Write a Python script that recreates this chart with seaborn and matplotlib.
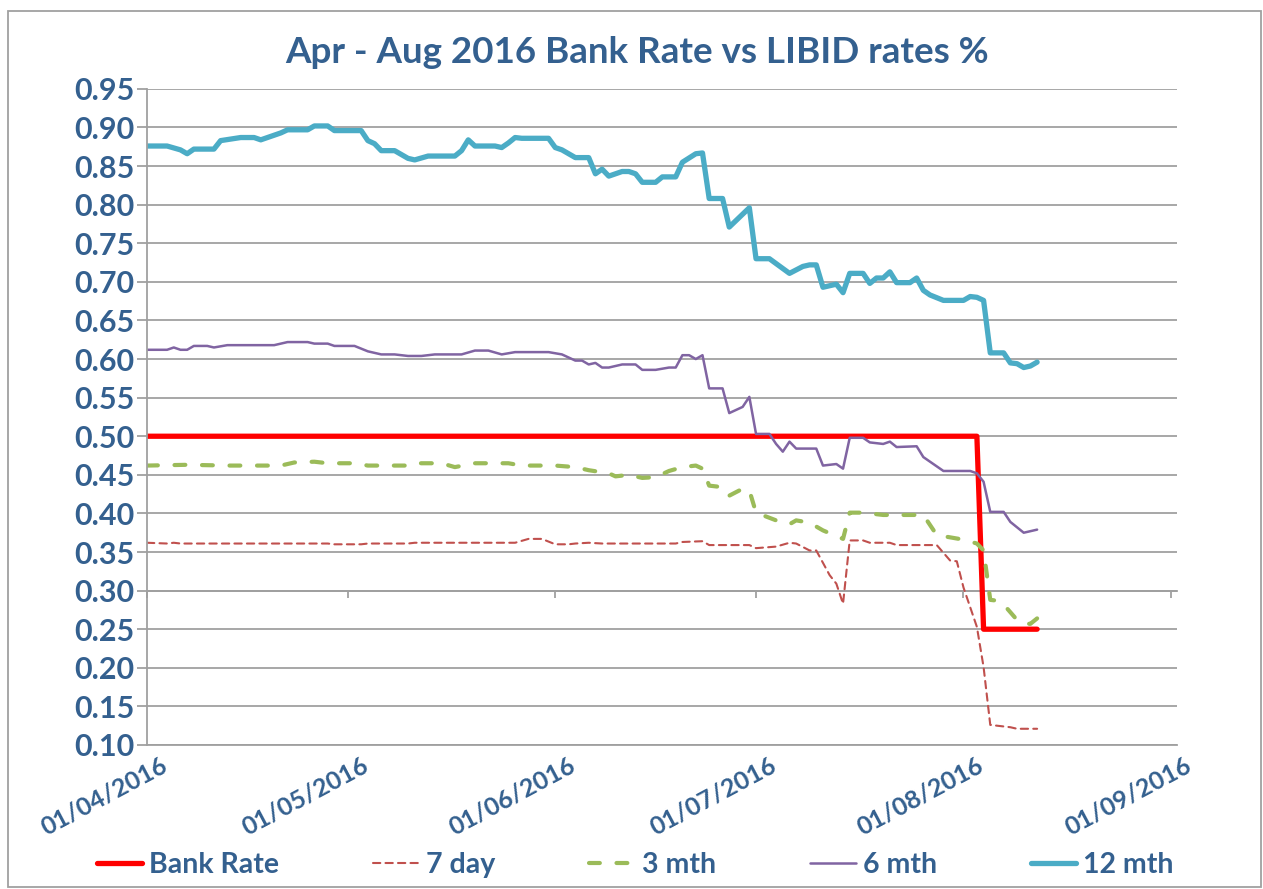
import pandas as pd
import numpy as np
import matplotlib
matplotlib.use('Agg')
import matplotlib.pyplot as plt
import matplotlib.dates as mdates
import matplotlib.transforms as mtransforms
from matplotlib.patches import Rectangle
import seaborn as sns

sns.set_style('white')
plt.rcParams['font.family'] = ['Lato', 'DejaVu Sans']
plt.rcParams['font.weight'] = 'bold'

text_blue = '#34608F'
grid_grey = '#A0A0A0'

# Bank Rate
bank_dates = ['04-01', '08-03', '08-04', '08-12']
bank_vals = [0.50, 0.50, 0.25, 0.25]

# 7 day LIBID
d7_dates = ['04-01', '04-04', '04-05', '04-06', '04-28', '04-29', '05-03', '05-04', '05-10', '05-11',
            '05-26', '05-28', '05-30', '06-01', '06-03', '06-04', '06-06', '06-08', '06-19', '06-20',
            '06-23', '06-24', '06-30', '07-01', '07-04', '07-06', '07-07', '07-09', '07-10', '07-12',
            '07-13', '07-14', '07-15', '07-17', '07-18', '07-21', '07-22', '07-28', '07-30', '07-31',
            '08-01', '08-03', '08-04', '08-05', '08-08', '08-09', '08-12']
d7_vals = [0.362, 0.361, 0.362, 0.361, 0.361, 0.360, 0.360, 0.361, 0.361, 0.362,
           0.362, 0.367, 0.367, 0.360, 0.360, 0.361, 0.362, 0.361, 0.361, 0.363,
           0.364, 0.359, 0.359, 0.355, 0.357, 0.362, 0.361, 0.352, 0.352, 0.320,
           0.309, 0.283, 0.365, 0.365, 0.362, 0.362, 0.359, 0.359, 0.339, 0.338,
           0.304, 0.253, 0.201, 0.126, 0.123, 0.121, 0.121]

# 3 month LIBID
m3_dates = ['04-01', '04-07', '04-13', '04-21', '04-23', '04-26', '04-28', '05-02', '05-04', '05-10',
            '05-11', '05-15', '05-17', '05-20', '05-25', '05-27', '06-01', '06-04', '06-06', '06-09',
            '06-10', '06-12', '06-14', '06-16', '06-18', '06-20', '06-22', '06-23', '06-24', '06-26',
            '06-27', '06-29', '06-30', '07-01', '07-04', '07-06', '07-07', '07-09', '07-11', '07-14',
            '07-15', '07-17', '07-20', '07-25', '07-26', '07-27', '07-28', '07-30', '08-01', '08-03',
            '08-04', '08-05', '08-06', '08-07', '08-08', '08-09', '08-10', '08-11', '08-12']
m3_vals = [0.462, 0.463, 0.462, 0.462, 0.466, 0.467, 0.465, 0.465, 0.462, 0.462,
           0.465, 0.465, 0.460, 0.465, 0.465, 0.462, 0.462, 0.460, 0.456, 0.452,
           0.448, 0.450, 0.446, 0.447, 0.455, 0.460, 0.462, 0.458, 0.436, 0.434,
           0.423, 0.432, 0.430, 0.401, 0.391, 0.386, 0.391, 0.388, 0.378, 0.367,
           0.401, 0.401, 0.398, 0.398, 0.398, 0.385, 0.372, 0.369, 0.366, 0.361,
           0.352, 0.288, 0.287, 0.282, 0.272, 0.262, 0.257, 0.257, 0.264]

# 6 month LIBID
m6_dates = ['04-01', '04-04', '04-05', '04-06', '04-07', '04-08', '04-10', '04-11', '04-13', '04-20',
            '04-22', '04-25', '04-26', '04-28', '04-29', '05-02', '05-04', '05-06', '05-08', '05-10',
            '05-12', '05-14', '05-18', '05-20', '05-22', '05-24', '05-26', '05-31', '06-02', '06-04',
            '06-05', '06-06', '06-07', '06-08', '06-09', '06-11', '06-13', '06-14', '06-16', '06-18',
            '06-19', '06-20', '06-21', '06-22', '06-23', '06-24', '06-26', '06-27', '06-29', '06-30',
            '07-01', '07-03', '07-04', '07-05', '07-06', '07-07', '07-10', '07-11', '07-13', '07-14',
            '07-15', '07-17', '07-18', '07-20', '07-21', '07-22', '07-25', '07-26', '07-27', '07-29',
            '08-02', '08-03', '08-04', '08-05', '08-07', '08-08', '08-10', '08-12']
m6_vals = [0.612, 0.612, 0.615, 0.612, 0.612, 0.617, 0.617, 0.615, 0.618, 0.618,
           0.622, 0.622, 0.620, 0.620, 0.617, 0.617, 0.610, 0.606, 0.606, 0.604,
           0.604, 0.606, 0.606, 0.611, 0.611, 0.606, 0.609, 0.609, 0.606, 0.598,
           0.598, 0.593, 0.595, 0.589, 0.589, 0.593, 0.593, 0.586, 0.586, 0.589,
           0.589, 0.605, 0.605, 0.600, 0.605, 0.562, 0.562, 0.530, 0.538, 0.551,
           0.503, 0.503, 0.490, 0.480, 0.493, 0.484, 0.484, 0.462, 0.464, 0.458,
           0.498, 0.498, 0.492, 0.490, 0.493, 0.486, 0.487, 0.473, 0.467, 0.455,
           0.455, 0.452, 0.441, 0.402, 0.402, 0.389, 0.375, 0.379]

# 12 month LIBID
m12_dates = ['04-01', '04-04', '04-06', '04-07', '04-08', '04-11', '04-12', '04-15', '04-17', '04-18',
             '04-20', '04-21', '04-22', '04-25', '04-26', '04-28', '04-29', '05-03', '05-04', '05-05',
             '05-06', '05-08', '05-10', '05-11', '05-13', '05-17', '05-18', '05-19', '05-20', '05-23',
             '05-24', '05-25', '05-26', '05-27', '05-31', '06-01', '06-02', '06-04', '06-06', '06-07',
             '06-08', '06-09', '06-11', '06-12', '06-13', '06-14', '06-16', '06-17', '06-19', '06-20',
             '06-22', '06-23', '06-24', '06-26', '06-27', '06-30', '07-01', '07-03', '07-06', '07-08',
             '07-09', '07-10', '07-11', '07-13', '07-14', '07-15', '07-17', '07-18', '07-19', '07-20',
             '07-21', '07-22', '07-24', '07-25', '07-26', '07-27', '07-29', '08-01', '08-02', '08-03',
             '08-04', '08-05', '08-07', '08-08', '08-09', '08-10', '08-11', '08-12']
m12_vals = [0.876, 0.876, 0.871, 0.866, 0.872, 0.872, 0.883, 0.887, 0.887, 0.884,
            0.890, 0.893, 0.897, 0.897, 0.902, 0.902, 0.896, 0.896, 0.883, 0.879,
            0.870, 0.870, 0.860, 0.858, 0.863, 0.863, 0.870, 0.884, 0.876, 0.876,
            0.874, 0.880, 0.887, 0.886, 0.886, 0.874, 0.871, 0.861, 0.861, 0.840,
            0.846, 0.837, 0.843, 0.843, 0.840, 0.829, 0.829, 0.836, 0.836, 0.855,
            0.866, 0.867, 0.808, 0.808, 0.771, 0.796, 0.730, 0.730, 0.711, 0.720,
            0.722, 0.722, 0.693, 0.697, 0.686, 0.711, 0.711, 0.698, 0.705, 0.705,
            0.713, 0.699, 0.699, 0.705, 0.689, 0.683, 0.676, 0.676, 0.681, 0.680,
            0.676, 0.608, 0.608, 0.595, 0.594, 0.589, 0.591, 0.596]

series = [
    ('Bank Rate', bank_dates, bank_vals, '#FF0000', 3.8, '-'),
    ('7 day', d7_dates, d7_vals, '#C0504D', 1.5, (0, (3.5, 2.5))),
    ('3 mth', m3_dates, m3_vals, '#9BBB59', 3.0, (0, (2.6, 4.0))),
    ('6 mth', m6_dates, m6_vals, '#8064A2', 1.8, '-'),
    ('12 mth', m12_dates, m12_vals, '#4BACC6', 3.8, '-'),
]

fig = plt.figure(figsize=(12.63, 8.89), dpi=100)
ax = fig.add_axes([0.1164, 0.162, 0.8155, 0.738])

for label, dates, vals, color, lw, ls in series:
    x = pd.to_datetime(['2016-' + d for d in dates])
    sns.lineplot(x=x, y=vals, ax=ax, color=color, linewidth=lw, linestyle=ls,
                 label=label, estimator=None, sort=False,
                 solid_capstyle='round', dash_capstyle='round', solid_joinstyle='round')

ax.set_xlim(pd.Timestamp('2016-04-01'), pd.Timestamp('2016-09-01') + pd.Timedelta(days=0.9))
ax.set_ylim(0.10, 0.95)
ax.set_yticks(np.arange(0.10, 0.951, 0.05))
ax.yaxis.set_major_formatter(matplotlib.ticker.FormatStrFormatter('%.2f'))
ax.grid(axis='y', color=grid_grey, linewidth=1.3)
ax.grid(axis='x', visible=False)
ax.set_axisbelow(True)
for side in ['top', 'right']:
    ax.spines[side].set_visible(False)
for side in ['left', 'bottom']:
    ax.spines[side].set_color(grid_grey)
    ax.spines[side].set_linewidth(1.3)

ax.tick_params(axis='y', length=7, width=1.3, color=grid_grey, labelsize=22,
               labelcolor=text_blue, pad=2, left=True)
ax.xaxis.set_major_locator(mdates.MonthLocator())
ax.xaxis.set_major_formatter(mdates.DateFormatter('%d/%m/%Y'))
ax.tick_params(axis='x', length=0, labelsize=18, labelcolor=text_blue, pad=6)
offset = mtransforms.ScaledTranslation(13 / 100, 0, fig.dpi_scale_trans)
for lab in ax.get_xticklabels():
    lab.set_rotation(28)
    lab.set_ha('right')
    lab.set_va('top')
    lab.set_rotation_mode('anchor')
    lab.set_transform(lab.get_transform() + offset)
ax.set_xlabel('')
ax.set_ylabel('')

# small ticks on the 0.30 line where the date axis crosses
sec = ax.secondary_xaxis((0.30 - 0.10) / 0.85)
sec.set_alignment('bottom')
sec.xaxis.set_major_locator(mdates.MonthLocator())
sec.tick_params(axis='x', direction='out', length=5, width=1.3, color=grid_grey,
                labelbottom=False, labeltop=False)
sec.spines['bottom'].set_color(grid_grey)
sec.spines['bottom'].set_linewidth(1.3)

handles, labels = ax.get_legend_handles_labels()
if ax.get_legend() is not None:
    ax.get_legend().remove()
fig.legend(handles, labels, loc='center', bbox_to_anchor=(0.503, 0.027), ncol=5,
           frameon=False, handlelength=1.6, handletextpad=0.25, columnspacing=3.3,
           prop={'size': 20.5, 'weight': 'bold'}, labelcolor=text_blue)

fig.text(0.504, 0.9415, 'Apr - Aug 2016 Bank Rate vs LIBID rates %', ha='center', va='center',
         fontsize=26.5, fontweight='bold', color=text_blue)

fig.patches.append(Rectangle((8 / 1263, 2 / 889), 1253 / 1263, 876 / 889, transform=fig.transFigure,
                             fill=False, edgecolor=grid_grey, linewidth=1.3))

fig.savefig('out.png', dpi=100)
